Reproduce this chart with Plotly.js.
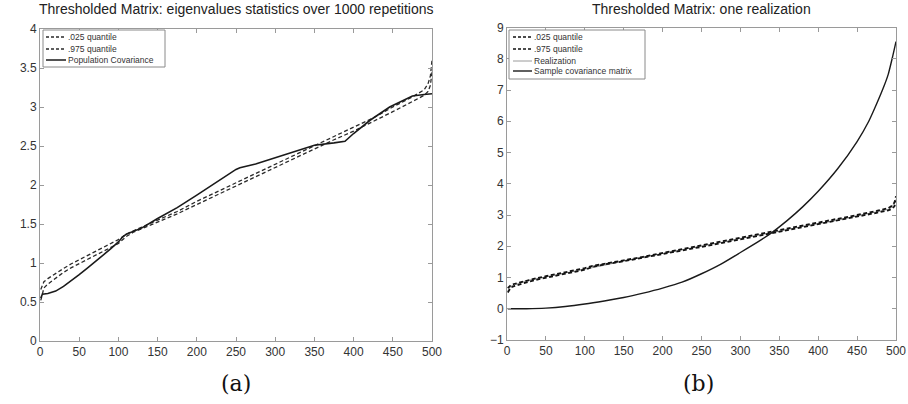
<!DOCTYPE html>
<html>
<head>
<meta charset="utf-8">
<script src="https://cdn.plot.ly/plotly-3.0.1.min.js"></script>
<style>html,body{margin:0;padding:0;background:#fff;}#chart{width:908px;height:404px;}</style>
</head>
<body>
<div id="chart"></div>
<script>
// ---- Data ----
// Left panel: eigenvalue statistics over 1000 repetitions
const qX = [1, 3, 5, 10, 20, 30, 40, 50, 60, 70, 80, 90, 100, 110, 120, 130, 150, 175, 200, 225, 250, 275, 300, 325, 350, 375, 400, 425, 450, 475, 490, 495, 498, 500];
const q025 = [0.52, 0.62, 0.68, 0.73, 0.81, 0.88, 0.94, 0.99, 1.04, 1.09, 1.14, 1.19, 1.25, 1.34, 1.40, 1.44, 1.52, 1.63, 1.75, 1.87, 1.98, 2.10, 2.22, 2.34, 2.46, 2.58, 2.69, 2.81, 2.94, 3.07, 3.15, 3.20, 3.28, 3.45];
const q975 = [0.66, 0.70, 0.76, 0.80, 0.87, 0.93, 0.99, 1.04, 1.09, 1.14, 1.19, 1.24, 1.30, 1.37, 1.42, 1.46, 1.55, 1.66, 1.79, 1.91, 2.03, 2.15, 2.27, 2.39, 2.51, 2.63, 2.74, 2.86, 3.00, 3.13, 3.22, 3.30, 3.40, 3.60];

const popX = [1, 3, 10, 20, 30, 40, 50, 60, 70, 80, 90, 100, 105, 110, 120, 130, 150, 175, 200, 225, 250, 255, 275, 300, 325, 350, 375, 389, 400, 421, 446, 475, 490, 500];
const popCov = [0.55, 0.60, 0.61, 0.64, 0.70, 0.77, 0.85, 0.93, 1.01, 1.09, 1.18, 1.27, 1.33, 1.37, 1.41, 1.45, 1.57, 1.71, 1.87, 2.04, 2.20, 2.22, 2.27, 2.35, 2.43, 2.51, 2.54, 2.56, 2.66, 2.83, 3.00, 3.14, 3.16, 3.17];

// Right panel: one realization
const realX = [1, 5, 10, 25, 50, 75, 100, 125, 150, 175, 200, 225, 250, 275, 300, 325, 350, 375, 400, 425, 450, 475, 490, 495, 500];
const realization = [0.58, 0.72, 0.77, 0.90, 1.02, 1.14, 1.27, 1.39, 1.53, 1.64, 1.77, 1.89, 2.00, 2.12, 2.25, 2.36, 2.48, 2.61, 2.72, 2.83, 2.97, 3.10, 3.18, 3.26, 3.50];

const scX = [1, 25, 50, 75, 100, 125, 150, 175, 200, 225, 250, 275, 300, 325, 340, 360, 380, 400, 425, 450, 465, 475, 485, 490, 495, 500];
const sampleCov = [0.0, 0.0, 0.02, 0.07, 0.15, 0.25, 0.36, 0.50, 0.66, 0.85, 1.12, 1.43, 1.80, 2.18, 2.43, 2.82, 3.26, 3.76, 4.48, 5.35, 6.00, 6.55, 7.15, 7.50, 8.00, 8.55];

const xTicks = [0, 50, 100, 150, 200, 250, 300, 350, 400, 450, 500];
const yTicksA = [0, 0.5, 1, 1.5, 2, 2.5, 3, 3.5, 4];
const yTicksB = [-1, 0, 1, 2, 3, 4, 5, 6, 7, 8, 9];

const titleA = 'Thresholded Matrix: eigenvalues statistics over 1000 repetitions';
const titleB = 'Thresholded Matrix: one realization';
const legendA = ['.025 quantile', '.975 quantile', 'Population Covariance'];
const legendB = ['.025 quantile', '.975 quantile', 'Realization', 'Sample covariance matrix'];

// ---- Styles ----
const W = 908, H = 404;
const styA = [
  {color: '#2a2a2a', width: 1.3, dash: '4px,2.5px'},
  {color: '#2a2a2a', width: 1.3, dash: '4px,2.5px'},
  {color: '#1a1a1a', width: 1.6, dash: 'solid'}
];
const styB = [
  {color: '#111', width: 1.8, dash: '4px,2.5px'},
  {color: '#111', width: 1.8, dash: '4px,2.5px'},
  {color: '#9a9a9a', width: 1.0, dash: 'solid'},
  {color: '#1a1a1a', width: 1.4, dash: 'solid'}
];

const traces = [
  {x: qX, y: q025, xaxis: 'x', yaxis: 'y', line: styA[0], name: legendA[0]},
  {x: qX, y: q975, xaxis: 'x', yaxis: 'y', line: styA[1], name: legendA[1]},
  {x: popX, y: popCov, xaxis: 'x', yaxis: 'y', line: styA[2], name: legendA[2]},
  {x: realX, y: realization, xaxis: 'x2', yaxis: 'y2', line: styB[2], name: legendB[2]},
  {x: qX, y: q025, xaxis: 'x2', yaxis: 'y2', line: styB[0], name: legendB[0]},
  {x: qX, y: q975, xaxis: 'x2', yaxis: 'y2', line: styB[1], name: legendB[1]},
  {x: scX, y: sampleCov, xaxis: 'x2', yaxis: 'y2', line: Object.assign({shape: 'spline', smoothing: 0.6}, styB[3]), name: legendB[3]}
].map(t => Object.assign({type: 'scatter', mode: 'lines', hoverinfo: 'skip'}, t));

const tickFont = {family: 'Liberation Sans, Arial, sans-serif', size: 12, color: '#333'};
function axis(extra) {
  return Object.assign({
    showline: true, linecolor: '#9a9a9a', linewidth: 1, mirror: 'ticks',
    ticks: 'inside', ticklen: 4, tickcolor: '#9a9a9a', tickwidth: 1,
    showgrid: false, zeroline: false, tickfont: tickFont, fixedrange: true
  }, extra);
}

const px = v => v / W, py = v => 1 - v / H;

const shapes = [];
const annotations = [];

// Panel titles and captions
const titleFont = {family: 'Liberation Sans, Arial, sans-serif', size: 14, color: '#222'};
annotations.push({text: titleA, x: px(236), y: py(9), xref: 'paper', yref: 'paper', showarrow: false,
  xanchor: 'center', yanchor: 'middle', font: titleFont});
annotations.push({text: titleB, x: px(701), y: py(9), xref: 'paper', yref: 'paper', showarrow: false,
  xanchor: 'center', yanchor: 'middle', font: titleFont});
annotations.push({text: '(a)', x: px(236), y: py(383), xref: 'paper', yref: 'paper', showarrow: false,
  xanchor: 'center', yanchor: 'middle', font: {family: 'DejaVu Serif, serif', size: 22, color: '#111'}});
annotations.push({text: '(b)', x: px(698), y: py(383), xref: 'paper', yref: 'paper', showarrow: false,
  xanchor: 'center', yanchor: 'middle', font: {family: 'DejaVu Serif, serif', size: 22, color: '#111'}});

// Compact legends (boxed), matching the reference's tight spacing
function legendBox(box, rows, labels, styles, lx0, lx1, tx) {
  shapes.push({type: 'rect', xref: 'paper', yref: 'paper', x0: px(box[0]), x1: px(box[1]), y0: py(box[3]), y1: py(box[2]),
    line: {color: '#8a8a8a', width: 1}, fillcolor: '#fff', layer: 'above'});
  labels.forEach((lab, i) => {
    const st = styles[i];
    shapes.push({type: 'line', xref: 'paper', yref: 'paper', x0: px(lx0), x1: px(lx1), y0: py(rows[i]), y1: py(rows[i]),
      line: {color: st.color, width: Math.min(st.width, 1.5), dash: st.dash === 'solid' ? 'solid' : '3px,2px'}, layer: 'above'});
    annotations.push({text: lab, x: px(tx), y: py(rows[i]), xref: 'paper', yref: 'paper', showarrow: false,
      xanchor: 'left', yanchor: 'middle', font: {family: 'Liberation Sans, Arial, sans-serif', size: 8.5, color: '#333'}});
  });
}
legendBox([43, 165, 30, 67], [37, 49, 60], legendA, styA, 46, 66, 66);
legendBox([509, 645, 30, 79], [37, 49, 61, 71], legendB, styB, 513, 532, 532);

const layout = {
  width: W, height: H,
  margin: {l: 0, r: 0, t: 0, b: 0},
  paper_bgcolor: '#fff', plot_bgcolor: '#fff',
  showlegend: false,
  xaxis: axis({domain: [px(40), px(432)], range: [0, 500], tickvals: xTicks, anchor: 'y'}),
  yaxis: axis({domain: [1 - 341 / H, 1 - 29 / H], range: [0, 4], tickvals: yTicksA, anchor: 'x'}),
  xaxis2: axis({domain: [px(507), px(896)], range: [0, 500], tickvals: xTicks, anchor: 'y2'}),
  yaxis2: axis({domain: [1 - 340 / H, 1 - 27.5 / H], range: [-1, 9], tickvals: yTicksB, anchor: 'x2'}),
  shapes: shapes,
  annotations: annotations
};

Plotly.newPlot('chart', traces, layout, {displayModeBar: false, staticPlot: true});
</script>
</body>
</html>
